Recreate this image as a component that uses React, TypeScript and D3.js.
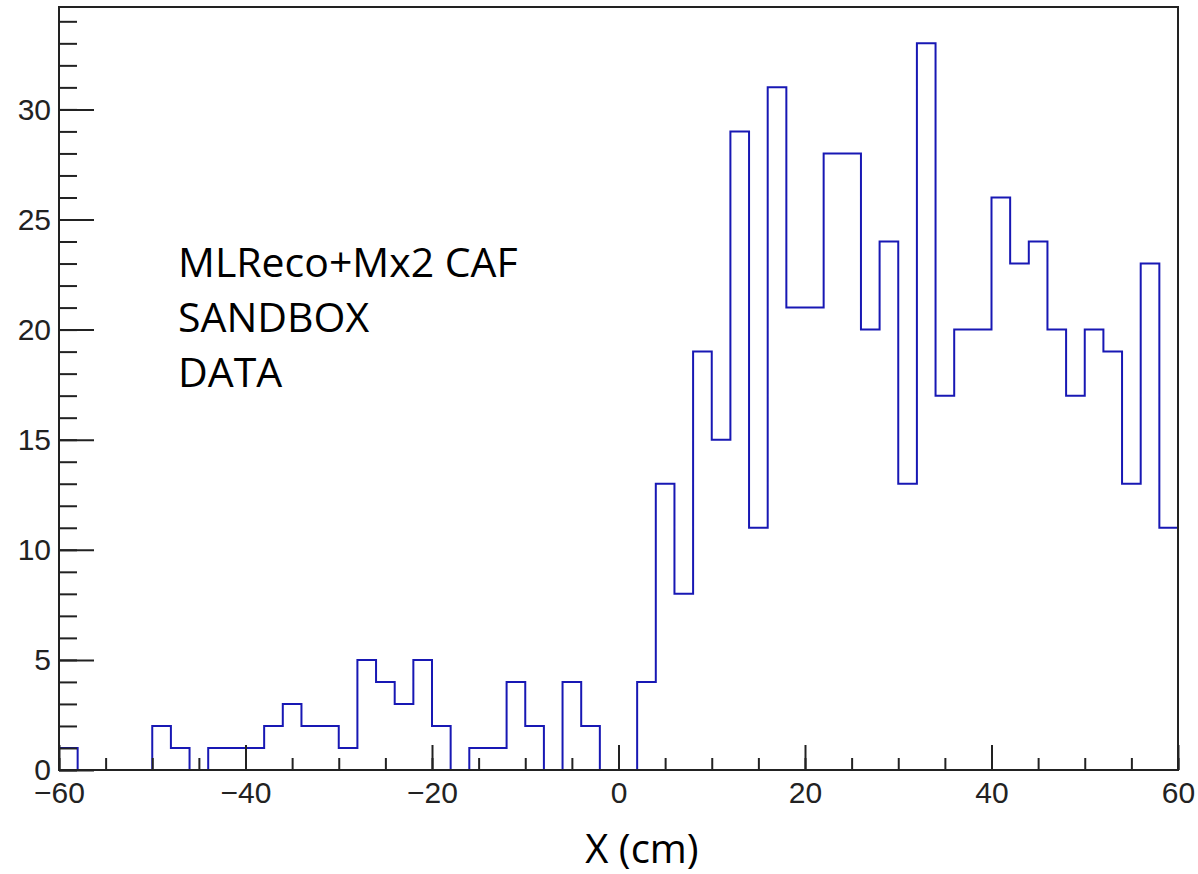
import React, { useEffect, useRef } from "react";
import * as d3 from "d3";

// Bin edges run from -60 to 60 in steps of 2 cm
const binEdges = d3.range(-60, 61, 2);
const counts = [
  1, 0, 0, 0, 0, 2, 1, 0, 1, 1,
  1, 2, 3, 2, 2, 1, 5, 4, 3, 5,
  2, 0, 1, 1, 4, 2, 0, 4, 2, 0,
  0, 4, 13, 8, 19, 15, 29, 11, 31, 21,
  21, 28, 28, 20, 24, 13, 33, 17, 20, 20,
  26, 23, 24, 20, 17, 20, 19, 13, 23, 11,
];
const xMajorTicks = [-60, -40, -20, 0, 20, 40, 60];
const yMajorTicks = [0, 5, 10, 15, 20, 25, 30];
const labelLines = ["MLReco+Mx2 CAF", "SANDBOX", "DATA"];
const xTitle = "X (cm)";

function Histogram() {
  const ref = useRef<SVGSVGElement | null>(null);

  useEffect(() => {
    const svg = d3.select(ref.current);
    svg.selectAll("*").remove();

    const left = 59, right = 1178, top = 7, bottom = 770;
    const x = d3.scaleLinear().domain([-60, 60]).range([left, right]);
    const y = d3.scaleLinear().domain([0, 34.65]).range([bottom, top]);

    // Histogram outline (step line)
    let d = `M${x(binEdges[0])},${y(0)}`;
    counts.forEach((c, i) => {
      d += `V${y(c)}H${x(binEdges[i + 1])}`;
    });
    d += `V${y(0)}`;
    svg.append("path")
      .attr("d", d)
      .attr("fill", "none")
      .attr("stroke", "#1818b4")
      .attr("stroke-width", 2);

    // Minor ticks
    svg.append("g")
      .attr("transform", `translate(0,${bottom})`)
      .call(d3.axisBottom(x).tickValues(d3.range(-60, 61, 5)).tickSize(-12).tickFormat(() => ""))
      .call(g => g.select(".domain").remove());
    svg.append("g")
      .attr("transform", `translate(${left},0)`)
      .call(d3.axisLeft(y).tickValues(d3.range(0, 35, 1)).tickSize(-18).tickFormat(() => ""))
      .call(g => g.select(".domain").remove());

    // Major ticks + labels
    const xAxis = svg.append("g")
      .attr("transform", `translate(0,${bottom})`)
      .call(d3.axisBottom(x).tickValues(xMajorTicks).tickSize(-25).tickPadding(12));
    const yAxis = svg.append("g")
      .attr("transform", `translate(${left},0)`)
      .call(d3.axisLeft(y).tickValues(yMajorTicks).tickSize(-35).tickPadding(8));

    [xAxis, yAxis].forEach(g => {
      g.selectAll(".domain").remove();
      g.selectAll("text")
        .attr("font-family", "'Liberation Sans', Arial, sans-serif")
        .attr("font-size", 30)
        .attr("fill", "#222");
    });
    svg.selectAll(".tick line").attr("stroke", "#222").attr("stroke-width", 2);

    // Frame
    svg.append("rect")
      .attr("x", left)
      .attr("y", top)
      .attr("width", right - left)
      .attr("height", bottom - top)
      .attr("fill", "none")
      .attr("stroke", "#222")
      .attr("stroke-width", 2);

    // Annotation
    svg.append("g")
      .selectAll("text")
      .data(labelLines)
      .enter()
      .append("text")
      .text(t => t)
      .attr("x", 178)
      .attr("y", (_, i) => 277 + i * 55)
      .attr("font-family", "'Open Sans', sans-serif")
      .attr("font-size", 41)
      .attr("fill", "#000");

    svg.append("text")
      .text(xTitle)
      .attr("x", 642)
      .attr("y", 863)
      .attr("text-anchor", "middle")
      .attr("font-family", "'Open Sans', sans-serif")
      .attr("font-size", 40)
      .attr("fill", "#000");
  }, []);

  return (
    <svg ref={ref} width={1198} height={874}
      style={{ position: "absolute", left: 0, top: 0, background: "#fff" }} />
  );
}

export default function App() {
  return <Histogram />;
}
